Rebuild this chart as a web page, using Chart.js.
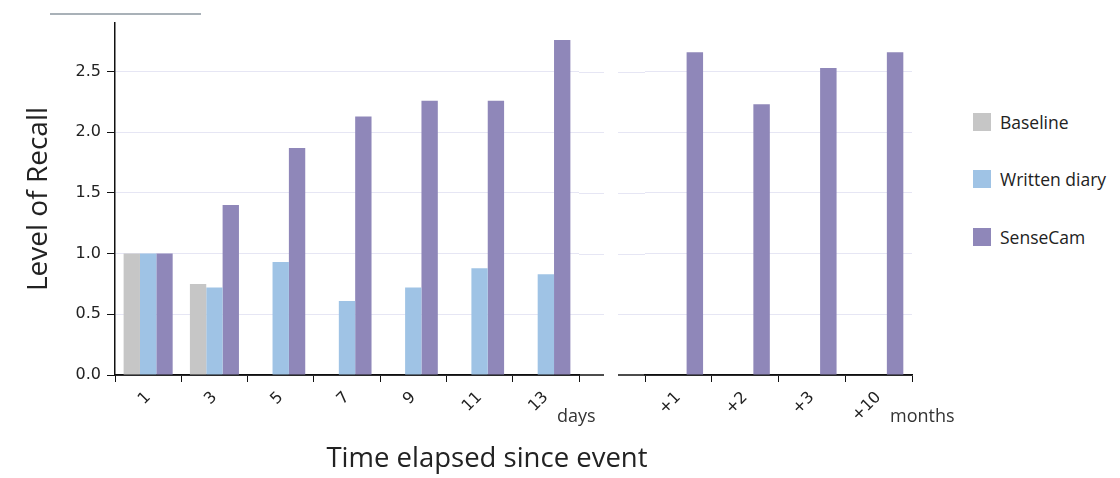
<!DOCTYPE html>
<html lang="en">
<head>
<meta charset="UTF-8">
<title>Level of Recall</title>
<style>
  body { margin: 0; width: 1120px; height: 478px; background: #fff; position: relative; overflow: hidden; font-family: "Open Sans", sans-serif; color: #222; }
  canvas { position: absolute; top: 0; }
  #left { left: 0; }
  #right { left: 600px; }
  .topline { position: absolute; left: 50px; top: 13px; width: 151px; height: 2px; background: #a9b1b8; }
  .unit { position: absolute; top: 403px; font-size: 18px; color: #333; }
  .xtitle { position: absolute; left: 237px; top: 438px; width: 500px; text-align: center; font-size: 27.5px; color: #222; }
  .legend-item { position: absolute; left: 973px; height: 18px; display: flex; align-items: center; font-size: 17.5px; color: #222; }
  .legend-item span.box { display: inline-block; width: 18px; height: 18px; margin-right: 9px; }
</style>
</head>
<body>
  <div class="topline"></div>
  <canvas id="left" width="620" height="478"></canvas>
  <canvas id="right" width="330" height="478"></canvas>
  <div class="unit" style="left:557px">days</div>
  <div class="unit" style="left:890px">months</div>
  <div class="xtitle">Time elapsed since event</div>
  <div id="legend"></div>

  <script src="https://cdn.jsdelivr.net/npm/chart.js@4.4.1/dist/chart.umd.min.js"></script>
  <script>
    // data
    const dayLabels = ["1", "3", "5", "7", "9", "11", "13"];
    const monthLabels = ["+1", "+2", "+3", "+10"];
    const baselineDays = [1.0, 0.75, null, null, null, null, null];
    const diaryDays = [1.0, 0.72, 0.93, 0.61, 0.72, 0.88, 0.83];
    const senseCamDays = [1.0, 1.40, 1.87, 2.13, 2.26, 2.26, 2.76];
    const baselineMonths = [null, null, null, null];
    const diaryMonths = [null, null, null, null];
    const senseCamMonths = [2.66, 2.23, 2.53, 2.66];
    const yTicks = [0, 0.5, 1.0, 1.5, 2.0, 2.5];
    const seriesNames = ["Baseline", "Written diary", "SenseCam"];

    const seriesColors = ["#c6c6c6", "#9fc3e5", "#8f87b9"];
    const gridColor = "#e6e6f4";
    const axisColor = "#111";

    Chart.defaults.font.family = "DejaVu Sans";
    Chart.defaults.color = "#222";

    // axis line and gridlines run a little past the categories in the original
    const extendPlot = {
      id: "extendPlot",
      beforeDatasetsDraw(chart, args, opts) {
        const { ctx, chartArea, scales } = chart;
        const y = scales.y;
        const x0 = chartArea.left - (opts.before || 0);
        const x1 = chartArea.right + (opts.after || 0);
        ctx.save();
        ctx.strokeStyle = gridColor;
        ctx.lineWidth = 1;
        y.ticks.forEach(t => {
          if (t.value === 0) return;
          const py = Math.round(y.getPixelForValue(t.value)) + 0.5;
          ctx.beginPath();
          if (opts.before) { ctx.moveTo(x0, py); ctx.lineTo(chartArea.left, py); }
          if (opts.after) { ctx.moveTo(chartArea.right, py); ctx.lineTo(x1, py); }
          ctx.stroke();
        });
        const zy = y.getPixelForValue(0);
        ctx.strokeStyle = axisColor;
        ctx.lineWidth = 1.5;
        ctx.beginPath();
        ctx.moveTo(x0, zy);
        ctx.lineTo(x1, zy);
        ctx.stroke();
        ctx.restore();
      }
    };

    const makeDatasets = (values) => values.map((v, i) => ({
      label: seriesNames[i],
      data: v,
      backgroundColor: seriesColors[i],
      categoryPercentage: 0.74,
      barPercentage: 1.0
    }));

    const xScale = {
      afterFit: s => { s.height = 60; },
      border: { color: axisColor, width: 1.5 },
      grid: { drawOnChartArea: false, tickColor: axisColor, tickLength: 7 },
      ticks: { font: { size: 16 }, maxRotation: 45, minRotation: 45, padding: 6 }
    };

    // left panel: days
    new Chart(document.getElementById("left"), {
      type: "bar",
      data: { labels: dayLabels, datasets: makeDatasets([baselineDays, diaryDays, senseCamDays]) },
      options: {
        responsive: false,
        animation: false,
        layout: { padding: { left: 22, right: 41, top: 23, bottom: 43 } },
        plugins: { legend: { display: false }, tooltip: { enabled: false }, extendPlot: { after: 25 } },
        scales: {
          x: xScale,
          y: {
            min: 0,
            max: 2.9,
            afterBuildTicks: s => { s.ticks = yTicks.map(v => ({ value: v })); },
            afterFit: s => { s.width = 93; },
            border: { color: axisColor, width: 1.5 },
            grid: { color: gridColor, tickColor: axisColor, tickLength: 8 },
            ticks: { padding: 6, font: { size: 16 }, callback: v => Number(v).toFixed(1) },
            title: { display: true, text: "Level of Recall", font: { family: "Open Sans", size: 28 }, padding: 0 }
          }
        }
      },
      plugins: [extendPlot]
    });

    // right panel: months
    new Chart(document.getElementById("right"), {
      type: "bar",
      data: { labels: monthLabels, datasets: makeDatasets([baselineMonths, diaryMonths, senseCamMonths]) },
      options: {
        responsive: false,
        animation: false,
        layout: { padding: { left: 45, right: 18, top: 23, bottom: 43 } },
        plugins: { legend: { display: false }, tooltip: { enabled: false }, extendPlot: { before: 27 } },
        scales: {
          x: xScale,
          y: {
            min: 0,
            max: 2.9,
            afterBuildTicks: s => { s.ticks = yTicks.map(v => ({ value: v })); },
            afterFit: s => { s.width = 0; },
            border: { display: false },
            grid: { color: gridColor, drawTicks: false },
            ticks: { display: false }
          }
        }
      },
      plugins: [extendPlot]
    });

    // legend
    const legend = document.getElementById("legend");
    const legendTops = [113, 170, 228];
    seriesNames.forEach((name, i) => {
      const item = document.createElement("div");
      item.className = "legend-item";
      item.style.top = legendTops[i] + "px";
      item.innerHTML = '<span class="box" style="background:' + seriesColors[i] + '"></span>' + name;
      legend.appendChild(item);
    });
  </script>
</body>
</html>
